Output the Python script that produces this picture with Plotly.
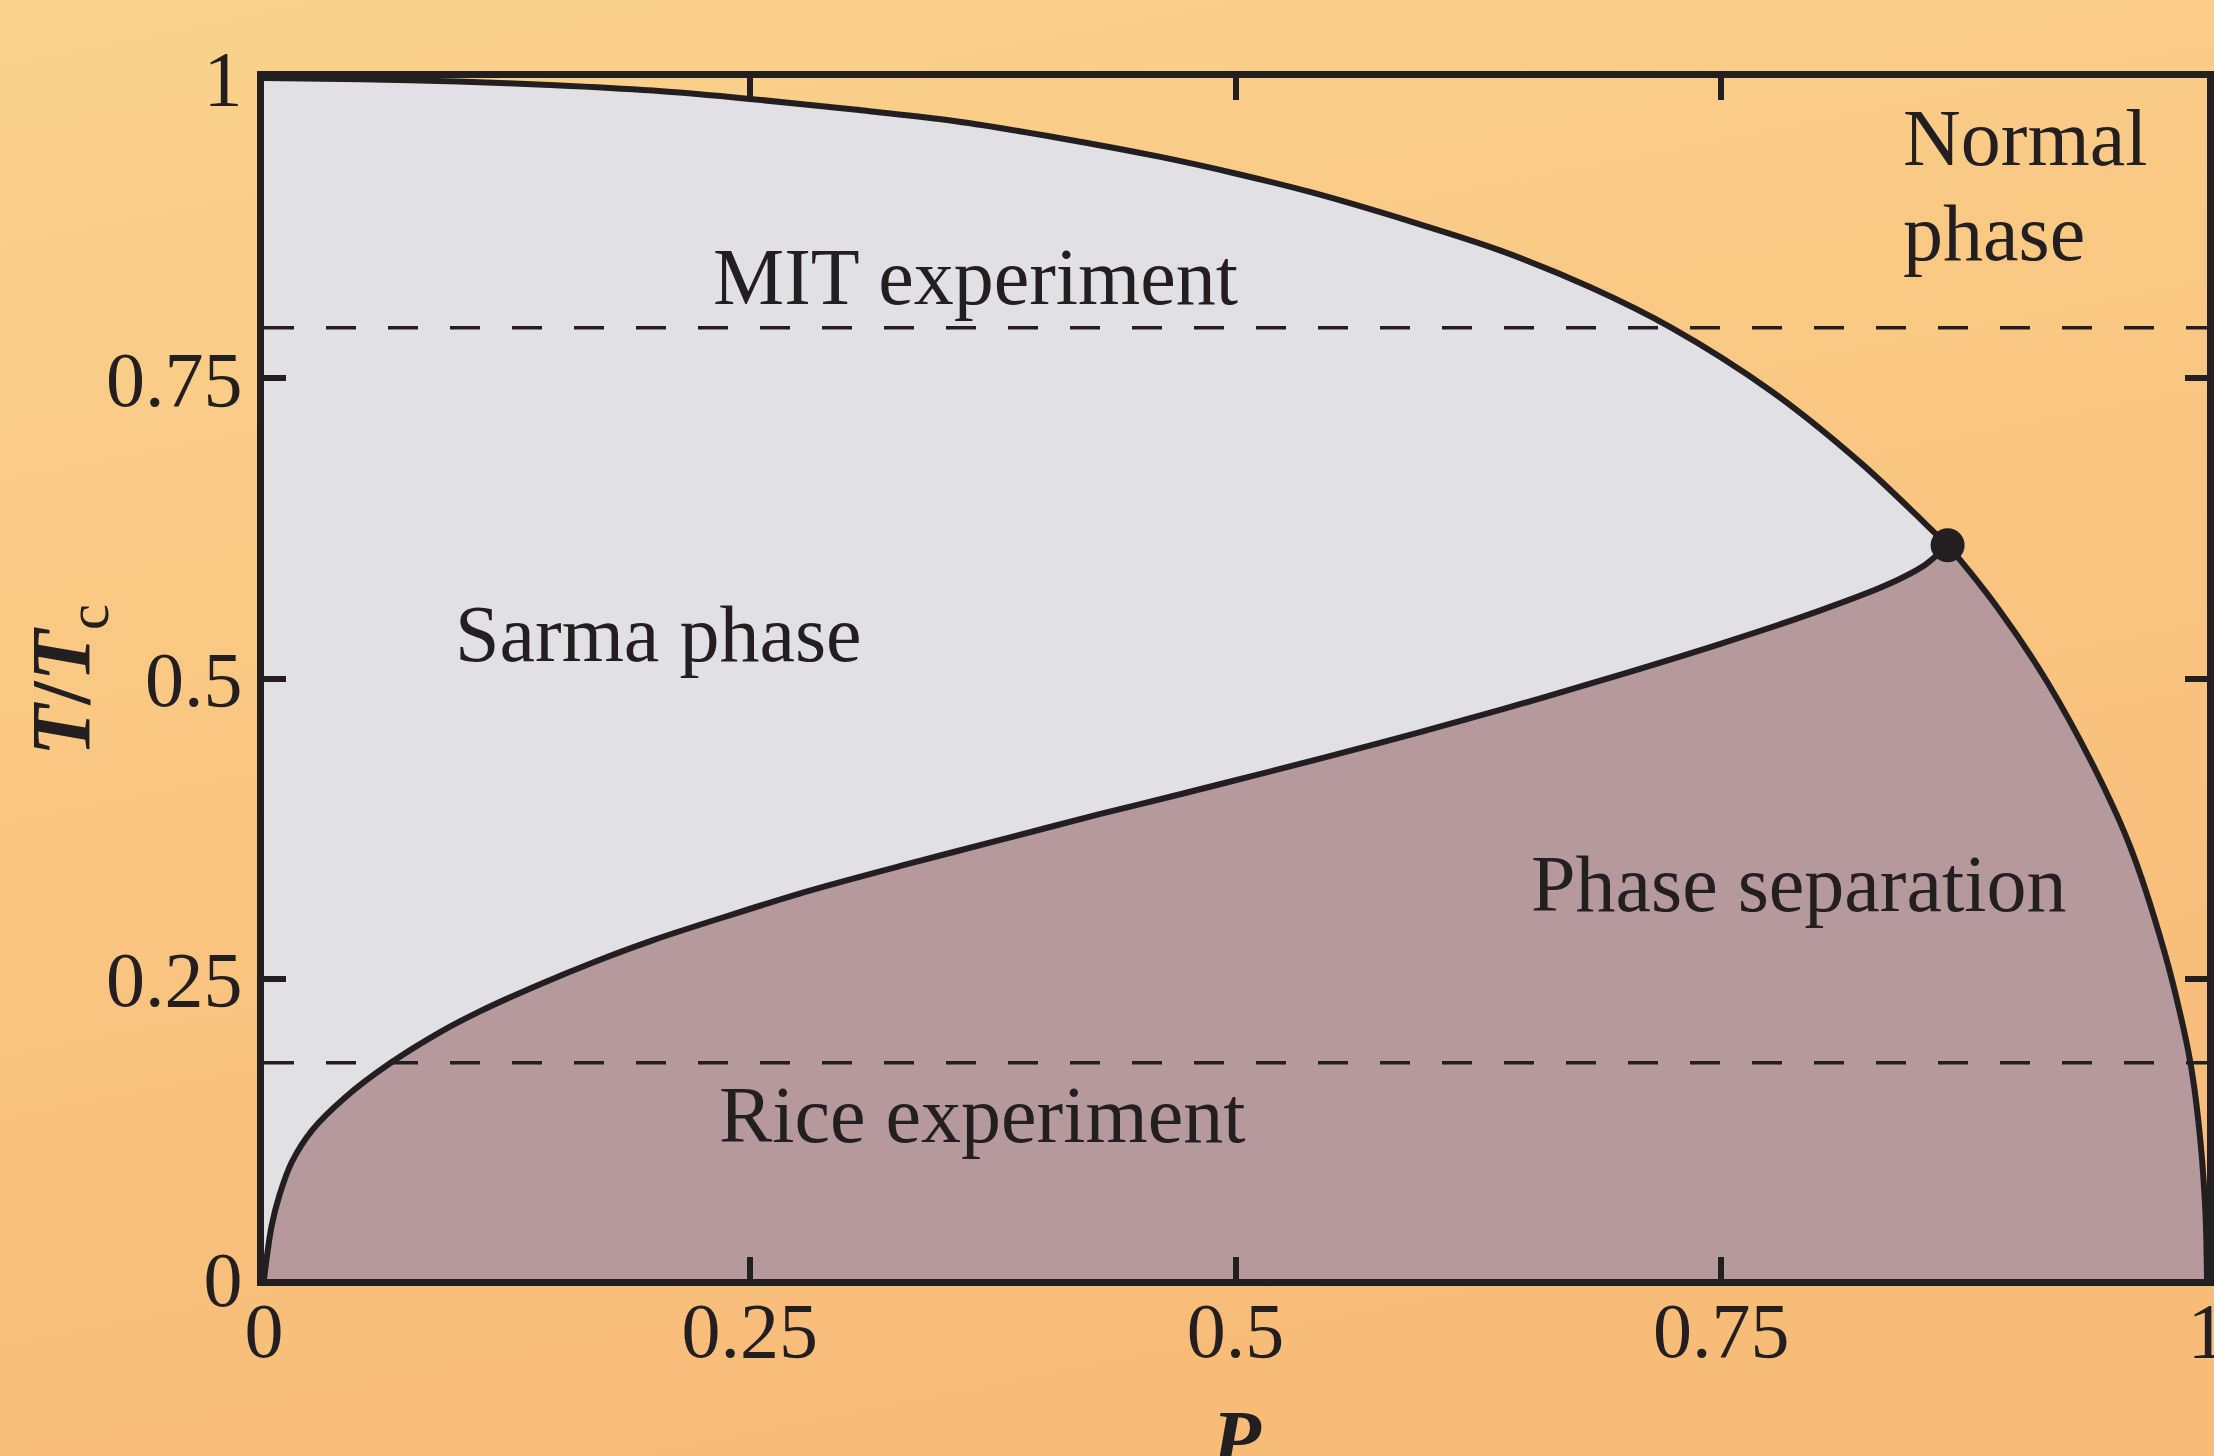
import base64
import plotly.graph_objects as go

# ---------------- data ----------------
# Sarma / normal boundary, from P=0 up to the tricritical point
upper_P = [0.0, 0.05, 0.10, 0.15, 0.20, 0.25, 0.3037, 0.356, 0.4084, 0.4607, 0.50,
           0.5393, 0.5916, 0.6357, 0.6824, 0.7245, 0.776, 0.8225, 0.8623, 0.8665]
upper_T = [1.0, 0.999, 0.997, 0.994, 0.9895, 0.9826, 0.9737, 0.964, 0.9503, 0.9345, 0.9205,
           0.9047, 0.8798, 0.8567, 0.826, 0.792, 0.739, 0.6785, 0.6175, 0.611]

# phase-separation / normal boundary, from the tricritical point down to P=1
outer_P = [0.8665, 0.8923, 0.918, 0.9436, 0.9607, 0.9778, 0.988, 0.9923, 0.9966, 0.9992, 1.0]
outer_T = [0.611, 0.5587, 0.4965, 0.4205, 0.359, 0.274, 0.208, 0.172, 0.115, 0.055, 0.0]

# Sarma / phase-separation boundary, from the origin to the tricritical point
lower_P = [0.0, 0.0039, 0.008, 0.0142, 0.0248, 0.0416, 0.0652, 0.09, 0.11, 0.14, 0.17,
           0.20, 0.24, 0.28, 0.33, 0.38, 0.43, 0.47, 0.52, 0.57, 0.62, 0.66, 0.70,
           0.75, 0.80, 0.835, 0.855, 0.8665]
lower_T = [0.0, 0.044, 0.070, 0.097, 0.124, 0.151, 0.180, 0.205, 0.222, 0.244, 0.264,
           0.282, 0.303, 0.323, 0.345, 0.366, 0.387, 0.403, 0.4235, 0.4445, 0.4665, 0.4849,
           0.5041, 0.5291, 0.5561, 0.5778, 0.5948, 0.611]

tricritical_P = [0.8665]
tricritical_T = [0.611]

mit_T = 0.792
rice_T = 0.18

tick_vals = [0, 0.25, 0.5, 0.75, 1]
tick_text = ["0", "0.25", "0.5", "0.75", "1"]

# ---------------- styling ----------------
W, H = 2214, 1456
L, R, TOP, BOT = 264, 2207, 78, 1279
INK = "#231F20"
SARMA = "#E1E0E5"
PSEP = "#B5999C"
FONT = "Liberation Serif"

svg = (
    '<svg xmlns="http://www.w3.org/2000/svg" width="%d" height="%d" preserveAspectRatio="none">'
    '<defs><linearGradient id="g" x1="0" y1="0" x2="0.3" y2="1">'
    '<stop offset="0" stop-color="#FAD28C"/><stop offset="1" stop-color="#F8BC79"/>'
    '</linearGradient></defs><rect x="0" y="0" width="%d" height="%d" fill="url(#g)"/></svg>'
) % (W, H, W, H)
bg_uri = "data:image/svg+xml;base64," + base64.b64encode(svg.encode()).decode()

fig = go.Figure()

# Sarma region
fig.add_trace(go.Scatter(
    x=upper_P + lower_P[::-1], y=upper_T + lower_T[::-1],
    fill="toself", fillcolor=SARMA, mode="lines", line=dict(width=0),
    hoverinfo="skip", showlegend=False))
# Phase separation region
fig.add_trace(go.Scatter(
    x=lower_P + outer_P[1:], y=lower_T + outer_T[1:],
    fill="toself", fillcolor=PSEP, mode="lines", line=dict(width=0),
    hoverinfo="skip", showlegend=False))

# experiment temperatures (dashed)
for t in (mit_T, rice_T):
    fig.add_trace(go.Scatter(
        x=[0, 1], y=[t, t], mode="lines",
        line=dict(color=INK, width=3.5, dash="30px,32px"),
        hoverinfo="skip", showlegend=False))

# phase boundaries
fig.add_trace(go.Scatter(
    x=upper_P + outer_P[1:], y=upper_T + outer_T[1:], mode="lines",
    line=dict(color=INK, width=6, shape="spline", smoothing=0.9),
    hoverinfo="skip", showlegend=False))
fig.add_trace(go.Scatter(
    x=lower_P, y=lower_T, mode="lines",
    line=dict(color=INK, width=6, shape="spline", smoothing=0.9),
    hoverinfo="skip", showlegend=False))

# tricritical point
fig.add_trace(go.Scatter(
    x=tricritical_P, y=tricritical_T, mode="markers",
    marker=dict(color=INK, size=34, line=dict(width=0)),
    hoverinfo="skip", showlegend=False))

axis_common = dict(
    range=[0, 1], showline=True, linewidth=7, linecolor=INK, mirror="ticks",
    ticks="inside", ticklen=22, tickwidth=6, tickcolor=INK,
    tickvals=tick_vals, ticktext=tick_text,
    tickfont=dict(family=FONT, size=78, color=INK),
    showgrid=False, zeroline=False, fixedrange=True, automargin=False,
    ticklabeloverflow="allow",
)

fig.update_layout(
    width=W, height=H,
    margin=dict(l=0, r=0, t=0, b=0, pad=0, autoexpand=False),
    paper_bgcolor="#F9C884",
    plot_bgcolor="rgba(0,0,0,0)",
    xaxis=dict(domain=[L / W, R / W], ticklabelstandoff=-23, **axis_common),
    yaxis=dict(domain=[1 - BOT / H, 1 - TOP / H], ticklabelstandoff=-1, **axis_common),
    images=[dict(source=bg_uri, xref="paper", yref="paper", x=0, y=1,
                 sizex=1, sizey=1, xanchor="left", yanchor="top",
                 sizing="stretch", layer="below")],
    showlegend=False,
)

txt = dict(family=FONT, size=80, color=INK)
labels = [
    ("Normal", 0.8425, 0.9503, "left"),
    ("phase", 0.8425, 0.8707, "left"),
    ("MIT experiment", 0.3663, 0.8345, "center"),
    ("Sarma phase", 0.2032, 0.537, "center"),
    ("Phase separation", 0.790, 0.329, "center"),
    ("Rice experiment", 0.3695, 0.1367, "center"),
]
for text, x, y, xa in labels:
    fig.add_annotation(text=text, x=x, y=y, xref="x", yref="y",
                       xanchor=xa, yanchor="middle", showarrow=False, font=txt)

# axis titles
fig.add_annotation(text="<i><b>P</b></i>", x=1236 / W, y=1 - 1439 / H,
                   xref="paper", yref="paper", xanchor="center", yanchor="middle",
                   showarrow=False, font=txt)
fig.add_annotation(text="<b><i>T</i>/<i>T</i></b><sub>c</sub>", x=68 / W, y=1 - 680 / H,
                   xref="paper", yref="paper", xanchor="center", yanchor="middle",
                   textangle=-90, showarrow=False,
                   font=dict(family=FONT, size=84, color=INK))

fig.write_html("out.html")
